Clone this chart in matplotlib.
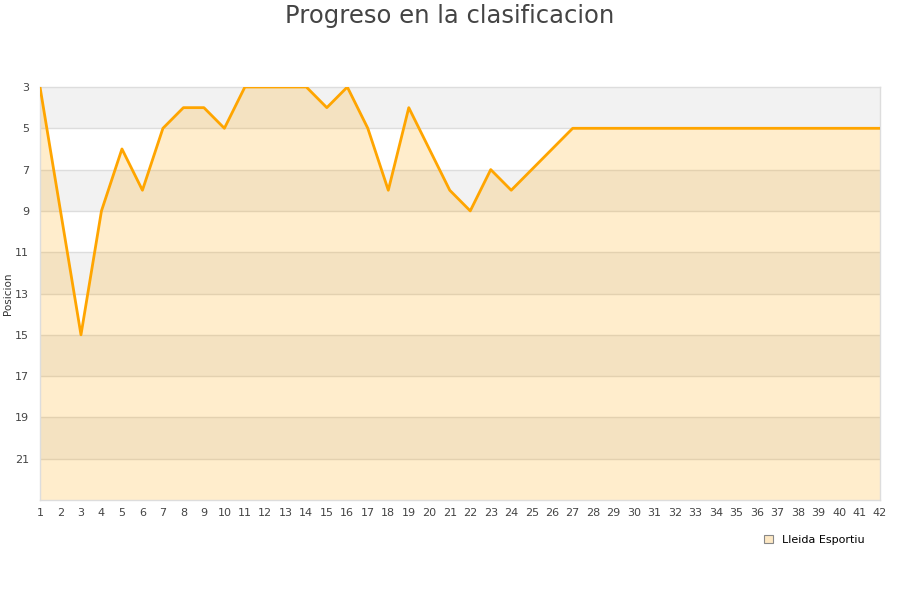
import matplotlib.pyplot as plt
import matplotlib as mpl
import numpy as np

mpl.rcParams['font.family'] = 'DejaVu Sans'

jornadas = list(range(1, 43))
posicion = [3, 9, 15, 9, 6, 8, 5, 4, 4, 5,
            3, 3, 3, 3, 4, 3, 5, 8, 4, 6,
            8, 9, 7, 8, 7, 6, 5, 5, 5, 5,
            5, 5, 5, 5, 5, 5, 5, 5, 5, 5,
            5, 5]
yticks = [3, 5, 7, 9, 11, 13, 15, 17, 19, 21]
equipo = "Lleida Esportiu"

fig = plt.figure(figsize=(9, 6), dpi=100)
ax = fig.add_axes([40/900, 100/600, 840/900, 413/600])

# bandas alternas de fondo
for i, y0 in enumerate(range(3, 23, 2)):
    if i % 2 == 0:
        ax.axhspan(y0, y0 + 2, color='#f2f2f2', zorder=0, lw=0)
for y in yticks[1:]:
    ax.axhline(y, color='#dddddd', lw=1, zorder=1)

ax.fill_between(jornadas, posicion, 23, color='#ffa500', alpha=0.2, lw=0, zorder=2)
ax.plot(jornadas, posicion, color='#ffa500', lw=2, zorder=3)

ax.set_xlim(1, 42)
ax.set_ylim(23, 3)
ax.set_xticks(jornadas)
ax.set_yticks(yticks)
ax.tick_params(axis='both', length=0, labelsize=8, colors='#444444', pad=6)
ax.tick_params(axis='y', pad=8)
for s in ax.spines.values():
    s.set_color('#dddddd')
    s.set_linewidth(1)

ax.set_ylabel("Posicion", fontsize=7.5, color='#333333')
ax.yaxis.set_label_coords(-27/840, 0.5)
fig.text(0.5, 1 - 16/600, "Progreso en la clasificacion", ha='center', va='center',
         fontsize=17.5, color='#444444')

h = mpl.patches.Patch(facecolor='#fde8c4', edgecolor='#888888', lw=0.8, label=equipo)
fig.legend(handles=[h], loc='center', bbox_to_anchor=(814/900, 1 - 540/600),
           frameon=False, fontsize=8, handlelength=0.8, handleheight=0.8,
           handletextpad=0.8)

fig.savefig("out.png", dpi=100)
